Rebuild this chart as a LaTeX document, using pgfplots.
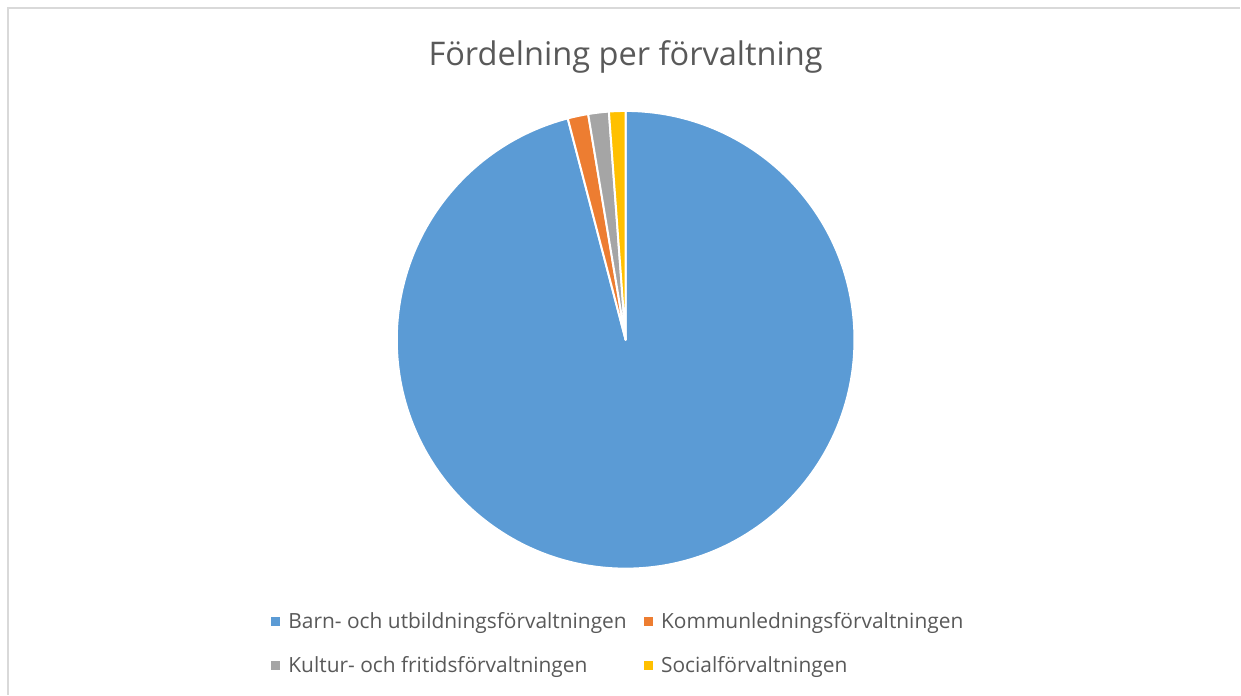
\documentclass[border=0pt]{standalone}
\usepackage{pgfplots}
\pgfplotsset{compat=1.18}
\usepackage{pgfplotstable}
\usepackage{fontspec}
\setmainfont{Open Sans}

\definecolor{cBarn}{HTML}{5B9BD5}
\definecolor{cKommun}{HTML}{ED7D31}
\definecolor{cKultur}{HTML}{A5A5A5}
\definecolor{cSocial}{HTML}{FFC000}
\definecolor{txt}{HTML}{595959}
\definecolor{frame}{HTML}{D9D9D9}

% antal per förvaltning
\pgfplotstableread{
forv value
Barn 330
Kommun 5
Kultur 5
Social 4
}\piedata

\begin{document}
\begin{tikzpicture}
% vinklar: start kl. 12, medurs
\pgfplotstablegetelem{0}{value}\of\piedata \let\va\pgfplotsretval
\pgfplotstablegetelem{1}{value}\of\piedata \let\vb\pgfplotsretval
\pgfplotstablegetelem{2}{value}\of\piedata \let\vc\pgfplotsretval
\pgfplotstablegetelem{3}{value}\of\piedata \let\vd\pgfplotsretval
\pgfmathsetmacro\tot{\va+\vb+\vc+\vd}
\pgfmathsetmacro\aA{90}
\pgfmathsetmacro\aB{\aA-360*(\va/\tot)}
\pgfmathsetmacro\aC{\aB-360*(\vb/\tot)}
\pgfmathsetmacro\aD{\aC-360*(\vc/\tot)}
\pgfmathsetmacro\aE{\aD-360*(\vd/\tot)}
\def\R{229bp}
\begin{axis}[
    width=1241bp, height=695bp, scale only axis,
    xmin=0, xmax=1241, ymin=0, ymax=695,
    enlargelimits=false, axis lines=none, clip=false,
    legend columns=2,
    legend cell align=left,
    legend style={at={(axis cs:268,86)}, anchor=north west, draw=none, fill=none,
        font=\fontsize{21}{25}\selectfont, text=txt,
        /tikz/every even column/.append style={column sep=15bp},
        row sep=22bp},
    legend image code/.code={\fill[#1] (0bp,-4bp) rectangle (8bp,4bp); \path (15bp,0bp);},
]
\path (axis cs:0,0) rectangle (axis cs:1241,695);
\draw[frame, line width=1.5bp] (axis cs:8,0) -- (axis cs:8,687) -- (axis cs:1241,687);
\node[txt, font=\fontsize{32.7}{38}\selectfont] at (axis cs:626,638) {Fördelning per förvaltning};

\filldraw[fill=cBarn, draw=white, line width=2bp, line join=round] (axis cs:626,355) -- ++(\aA:\R) arc[start angle=\aA, end angle=\aB, radius=\R] -- cycle;
\filldraw[fill=cKommun, draw=white, line width=2bp, line join=round] (axis cs:626,355) -- ++(\aB:\R) arc[start angle=\aB, end angle=\aC, radius=\R] -- cycle;
\filldraw[fill=cKultur, draw=white, line width=2bp, line join=round] (axis cs:626,355) -- ++(\aC:\R) arc[start angle=\aC, end angle=\aD, radius=\R] -- cycle;
\filldraw[fill=cSocial, draw=white, line width=2bp, line join=round] (axis cs:626,355) -- ++(\aD:\R) arc[start angle=\aD, end angle=\aE, radius=\R] -- cycle;

\addlegendimage{cBarn}
\addlegendentry{Barn- och utbildningsförvaltningen}
\addlegendimage{cKommun}
\addlegendentry{Kommunledningsförvaltningen}
\addlegendimage{cKultur}
\addlegendentry{Kultur- och fritidsförvaltningen}
\addlegendimage{cSocial}
\addlegendentry{Socialförvaltningen}
\end{axis}
\end{tikzpicture}
\end{document}
